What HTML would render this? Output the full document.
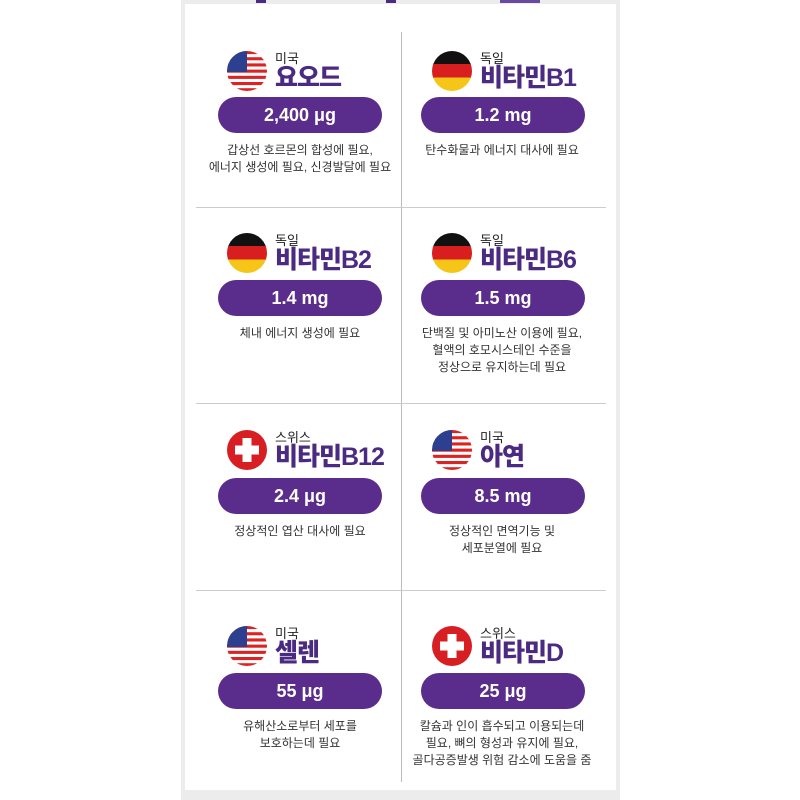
<!DOCTYPE html><html><head><meta charset="utf-8"><style>
body{margin:0;width:800px;height:800px;background:#fff;position:relative;overflow:hidden;font-family:"Liberation Sans","Noto Sans CJK KR",sans-serif}
.a{position:absolute}
.c{position:absolute;font-size:13px;color:#222;white-space:nowrap}
.n{position:absolute;font-size:25px;font-weight:900;color:#4b2a82;white-space:nowrap;letter-spacing:-1px;line-height:26px}
.p{position:absolute;width:164px;height:36px;border-radius:18px;background:#5a2d8c;color:#fff;font-weight:bold;font-size:18px;text-align:center;line-height:36px}
.d{position:absolute;width:200px;font-size:12px;color:#333;text-align:center;line-height:17px}
</style></head><body>
<div class="a" style="left:181px;top:0;width:439px;height:800px;background:#ececec"></div>
<div class="a" style="left:185px;top:4px;width:431px;height:786px;background:#fff"></div>
<div class="a" style="left:256px;top:0;width:10px;height:3px;background:#4b2a82"></div>
<div class="a" style="left:386px;top:0;width:10px;height:3px;background:#4b2a82"></div>
<div class="a" style="left:500px;top:0;width:40px;height:3px;background:#6a4aa0"></div>
<div class="a" style="left:401px;top:32px;width:1px;height:750px;background:#bbb"></div>
<div class="a" style="left:196px;top:207px;width:410px;height:1px;background:#ccc"></div>
<div class="a" style="left:196px;top:403px;width:410px;height:1px;background:#ccc"></div>
<div class="a" style="left:196px;top:590px;width:410px;height:1px;background:#ccc"></div>
<svg width="0" height="0" style="position:absolute"><defs>
<clipPath id="cc"><circle cx="20" cy="20" r="20"/></clipPath>
<g id="us"><g clip-path="url(#cc)"><rect width="40" height="40" fill="#fff"/>
<rect y="0" width="40" height="3.1" fill="#d22"/><rect y="6.2" width="40" height="3.1" fill="#d22"/><rect y="12.4" width="40" height="3.1" fill="#d22"/><rect y="18.6" width="40" height="3.1" fill="#d22"/><rect y="24.8" width="40" height="3.1" fill="#d22"/><rect y="31" width="40" height="3.1" fill="#d22"/><rect y="37.2" width="40" height="3.1" fill="#d22"/>
<rect width="20" height="21" fill="#2d3f8f"/></g></g>
<g id="de"><g clip-path="url(#cc)"><rect width="40" height="14" fill="#111"/><rect y="13" width="40" height="14" fill="#d81e1e"/><rect y="26.5" width="40" height="14" fill="#f5c518"/></g></g>
<g id="ch"><circle cx="20" cy="20" r="20" fill="#d71e22"/><rect x="15.5" y="8" width="9" height="24" fill="#fff"/><rect x="8" y="15.5" width="24" height="9" fill="#fff"/></g>
</defs></svg>

<!-- row1 -->
<svg class="a" style="left:227px;top:51px" width="40" height="40"><use href="#us"/></svg>
<div class="c" style="left:275px;top:48px">미국</div><div class="n" style="left:275px;top:65px">요오드</div>
<div class="p" style="left:218px;top:97px">2,400 μg</div>
<div class="d" style="left:200px;top:142px">갑상선 호르몬의 합성에 필요,<br>에너지 생성에 필요, 신경발달에 필요</div>
<svg class="a" style="left:432px;top:51px" width="40" height="40"><use href="#de"/></svg>
<div class="c" style="left:480px;top:48px">독일</div><div class="n" style="left:480px;top:65px">비타민B1</div>
<div class="p" style="left:421px;top:97px">1.2 mg</div>
<div class="d" style="left:402px;top:142px">탄수화물과 에너지 대사에 필요</div>
<!-- row2 -->
<svg class="a" style="left:227px;top:233px" width="40" height="40"><use href="#de"/></svg>
<div class="c" style="left:275px;top:230px">독일</div><div class="n" style="left:275px;top:247px">비타민B2</div>
<div class="p" style="left:218px;top:280px">1.4 mg</div>
<div class="d" style="left:200px;top:325px">체내 에너지 생성에 필요</div>
<svg class="a" style="left:432px;top:233px" width="40" height="40"><use href="#de"/></svg>
<div class="c" style="left:480px;top:230px">독일</div><div class="n" style="left:480px;top:247px">비타민B6</div>
<div class="p" style="left:421px;top:280px">1.5 mg</div>
<div class="d" style="left:402px;top:325px">단백질 및 아미노산 이용에 필요,<br>혈액의 호모시스테인 수준을<br>정상으로 유지하는데 필요</div>
<!-- row3 -->
<svg class="a" style="left:227px;top:430px" width="40" height="40"><use href="#ch"/></svg>
<div class="c" style="left:275px;top:427px">스위스</div><div class="n" style="left:275px;top:444px">비타민B12</div>
<div class="p" style="left:218px;top:478px">2.4 μg</div>
<div class="d" style="left:200px;top:523px">정상적인 엽산 대사에 필요</div>
<svg class="a" style="left:432px;top:430px" width="40" height="40"><use href="#us"/></svg>
<div class="c" style="left:480px;top:427px">미국</div><div class="n" style="left:480px;top:444px">아연</div>
<div class="p" style="left:421px;top:478px">8.5 mg</div>
<div class="d" style="left:402px;top:523px">정상적인 면역기능 및<br>세포분열에 필요</div>
<!-- row4 -->
<svg class="a" style="left:227px;top:626px" width="40" height="40"><use href="#us"/></svg>
<div class="c" style="left:275px;top:623px">미국</div><div class="n" style="left:275px;top:640px">셀렌</div>
<div class="p" style="left:218px;top:673px">55 μg</div>
<div class="d" style="left:200px;top:718px">유해산소로부터 세포를<br>보호하는데 필요</div>
<svg class="a" style="left:432px;top:626px" width="40" height="40"><use href="#ch"/></svg>
<div class="c" style="left:480px;top:623px">스위스</div><div class="n" style="left:480px;top:640px">비타민D</div>
<div class="p" style="left:421px;top:673px">25 μg</div>
<div class="d" style="left:402px;top:718px">칼슘과 인이 흡수되고 이용되는데<br>필요, 뼈의 형성과 유지에 필요,<br>골다공증발생 위험 감소에 도움을 줌</div>
</body></html>
